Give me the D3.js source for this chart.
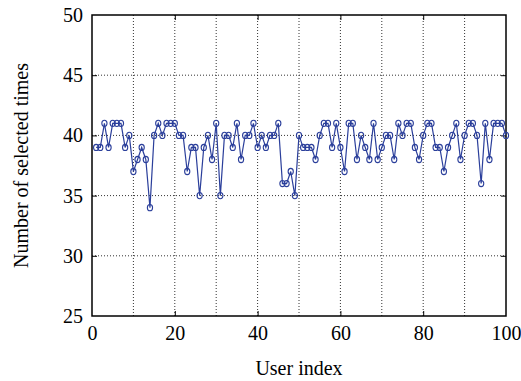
<!DOCTYPE html>
<html>
<head>
<meta charset="utf-8">
<script src="https://cdn.jsdelivr.net/npm/d3@7"></script>
<style>
  body { margin: 0; background: #fff; }
</style>
</head>
<body>
<div id="chart"></div>
<script>
(function() {
  // selection counts per user
  var counts = [
    39, 39, 41, 39, 41, 41, 41, 39, 40, 37,
    38, 39, 38, 34, 40, 41, 40, 41, 41, 41,
    40, 40, 37, 39, 39, 35, 39, 40, 38, 41,
    35, 40, 40, 39, 41, 38, 40, 40, 41, 39,
    40, 39, 40, 40, 41, 36, 36, 37, 35, 40,
    39, 39, 39, 38, 40, 41, 41, 39, 41, 39,
    37, 41, 41, 38, 40, 39, 38, 41, 38, 39,
    40, 40, 38, 41, 40, 41, 41, 39, 38, 40,
    41, 41, 39, 39, 37, 39, 40, 41, 38, 40,
    41, 41, 40, 36, 41, 38, 41, 41, 41, 40
  ]
  var users = counts.map(function(d, i) { return i + 1 })
  var xTicks = [0, 20, 40, 60, 80, 100]
  var xGrid = [10, 20, 30, 40, 50, 60, 70, 80, 90]
  var yTicks = [25, 30, 35, 40, 45, 50]
  var yGrid = [30, 35, 40, 45]

  var serif = "Liberation Serif, DejaVu Serif"

  var margin = {top: 15, right: 15, bottom: 65, left: 92}
  var width = 521 - margin.left - margin.right,
      height = 381 - margin.top - margin.bottom

  var svg = d3.select("#chart").append("svg")
      .attr("width", 521)
      .attr("height", 381)
    .append("g")
      .attr("transform", "translate(" + margin.left + "," + margin.top + ")")

  var x = d3.scaleLinear().domain([0, 100]).range([0, width])
  var y = d3.scaleLinear().domain([25, 50]).range([height, 0])

  // dotted grid
  svg.selectAll(".xgrid")
    .data(xGrid)
    .enter().append("line")
    .attr("x1", d => x(d)).attr("x2", d => x(d))
    .attr("y1", 0).attr("y2", height)
    .attr("stroke", "#333")
    .attr("stroke-dasharray", "1,2")

  svg.selectAll(".ygrid")
    .data(yGrid)
    .enter().append("line")
    .attr("x1", 0).attr("x2", width)
    .attr("y1", d => y(d)).attr("y2", d => y(d))
    .attr("stroke", "#333")
    .attr("stroke-dasharray", "1,2")

  // axes with inward ticks, mirrored on top/right
  var xAxis = d3.axisBottom(x).tickValues(xTicks).tickSizeInner(-5).tickSizeOuter(0).tickPadding(10)
  svg.append("g")
    .attr("transform", "translate(0," + height + ")")
    .call(xAxis)

  var yAxis = d3.axisLeft(y).tickValues(yTicks).tickSizeInner(-5).tickSizeOuter(0).tickPadding(9)
  svg.append("g")
    .call(yAxis)

  svg.append("g")
    .call(d3.axisTop(x).tickValues(xTicks).tickSizeInner(-5).tickSizeOuter(0).tickFormat(""))
  svg.append("g")
    .attr("transform", "translate(" + width + ",0)")
    .call(d3.axisRight(y).tickValues(yTicks).tickSizeInner(-5).tickSizeOuter(0).tickFormat(""))

  svg.selectAll(".domain").remove()
  svg.selectAll("g").attr("font-family", serif)
  svg.selectAll(".tick line").attr("stroke", "#000")
  svg.selectAll(".tick line").filter(function(d) { return d === 0 || d === 100 || d === 25 || d === 50 }).remove()
  svg.selectAll(".tick text")
    .attr("font-family", serif)
    .attr("font-size", 20)

  svg.append("rect")
    .attr("width", width)
    .attr("height", height)
    .attr("fill", "none")
    .attr("stroke", "#000")
    .attr("stroke-width", 1.5)

  // series
  var line = d3.line()
    .x(function(d, i) { return x(users[i]) })
    .y(function(d) { return y(d) })

  svg.append("path")
    .datum(counts)
    .attr("d", line)
    .attr("fill", "none")
    .attr("stroke", "#2b3f9b")
    .attr("stroke-width", 1.2)

  svg.selectAll(".pt")
    .data(counts)
    .enter().append("ellipse")
    .attr("class", "pt")
    .attr("cx", (d, i) => x(users[i]))
    .attr("cy", d => y(d))
    .attr("rx", 2.6)
    .attr("ry", 3.1)
    .attr("fill", "none")
    .attr("stroke", "#2b3f9b")
    .attr("stroke-width", 1.1)

  // labels
  svg.append("text")
    .attr("x", width / 2)
    .attr("y", height + 59)
    .attr("text-anchor", "middle")
    .attr("font-family", serif)
    .attr("font-size", 20)
    .text("User index")

  svg.append("text")
    .attr("transform", "translate(-64," + (height / 2) + ") rotate(-90)")
    .attr("text-anchor", "middle")
    .attr("font-family", serif)
    .attr("font-size", 20)
    .text("Number of selected times")
})()
</script>
</body>
</html>
